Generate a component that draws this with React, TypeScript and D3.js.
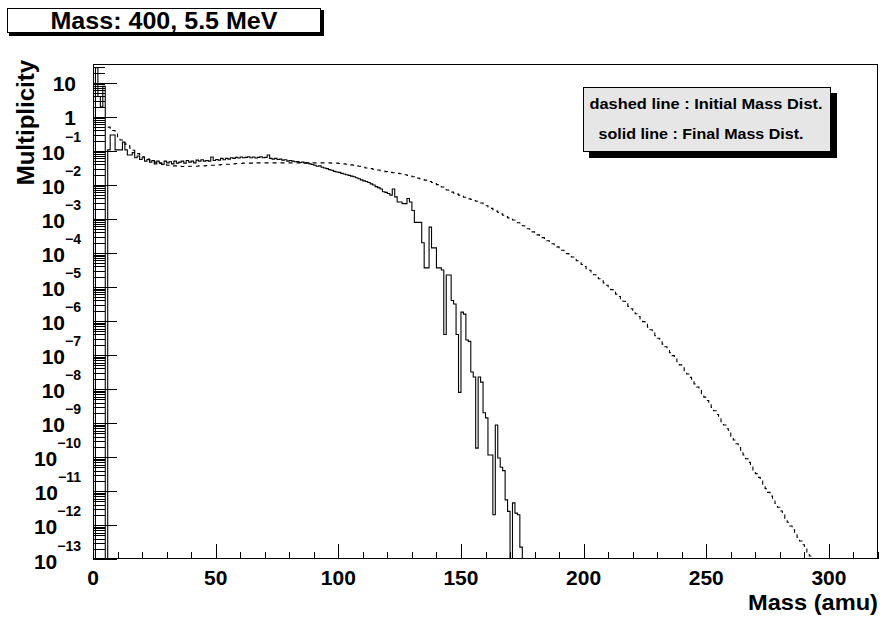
import React, { useEffect, useRef } from "react";
import * as d3 from "d3";

// log10(multiplicity) per 1-amu bin (null = empty bin)
const finalStart = 0;
const finalLog10: (number | null)[] = [
  null, 1.45, 0.6, 0.3, 0.9, null, -0.97, -0.53, -0.53, -0.97,
  -0.97, -0.97, -0.74, -0.97, -1.12, -1.12, -1.05, -1.2, -1.15, -1.25,
  -1.2, -1.3, -1.25, -1.33, -1.28, -1.38, -1.3, -1.35, -1.4, -1.3,
  -1.35, -1.32, -1.38, -1.3, -1.36, -1.33, -1.3, -1.36, -1.28, -1.33,
  -1.3, -1.35, -1.27, -1.3, -1.26, -1.3, -1.28, -1.3, -1.18, -1.28,
  -1.25, -1.27, -1.22, -1.26, -1.22, -1.24, -1.2, -1.22, -1.19, -1.21,
  -1.18, -1.2, -1.19, -1.17, -1.2, -1.18, -1.21, -1.19, -1.17, -1.2,
  -1.19, -1.12, -1.22, -1.24, -1.22, -1.25, -1.24, -1.27, -1.26, -1.3,
  -1.28, -1.3, -1.32, -1.31, -1.34, -1.33, -1.36, -1.35, -1.38, -1.4,
  -1.42, -1.45, -1.44, -1.48, -1.5, -1.52, -1.55, -1.57, -1.6, -1.62,
  -1.63, -1.66, -1.68, -1.7, -1.72, -1.74, -1.76, -1.79, -1.82, -1.85,
  -1.88, -1.9, -1.93, -1.97, -2.0, -2.05, -2.08, -2.12, -2.2, -2.22,
  -2.25, -2.3, -2.12, -2.35, -2.5, -2.5, -2.55, -2.55, -2.4, -2.5,
  -2.75, -3.1, -3.1, -3.1, -3.7, -4.44, -4.44, -3.24, -3.85, -3.85,
  -4.44, -4.44, -4.5, -6.4, -4.65, -4.65, -5.4, -5.5, -6.4, -8.1,
  -5.74, -5.8, -6.56, -6.6, -7.5, -7.65, -9.74, -7.65, -7.8, -8.7,
  -8.85, -9.94, -9.94, -11.7, -9.06, -10.03, -10.3, -10.4, -11.26, -11.6,
  null, -11.35, -11.65, -11.7, -12.65,
];

const initialStart = 6;
const initialLog10: number[] = [
  -0.3, -0.35, -0.4, -0.5, -0.6, -0.68, -0.75, -0.8, -0.85, -0.92, -0.98, -1.03, -1.08, -1.13, -1.17,
  -1.2, -1.24, -1.27, -1.3, -1.33, -1.35, -1.37, -1.39, -1.4, -1.42,
  -1.43, -1.44, -1.44, -1.45, -1.45, -1.46, -1.46, -1.46, -1.45, -1.45,
  -1.45, -1.45, -1.44, -1.44, -1.44, -1.43, -1.43, -1.42, -1.42, -1.41,
  -1.41, -1.4, -1.4, -1.39, -1.39, -1.38, -1.38, -1.37, -1.37, -1.37,
  -1.36, -1.36, -1.36, -1.36, -1.35, -1.35, -1.35, -1.35, -1.35, -1.35,
  -1.35, -1.35, -1.35, -1.35, -1.35, -1.35, -1.35, -1.35, -1.35, -1.35,
  -1.35, -1.35, -1.35, -1.35, -1.35, -1.35, -1.35, -1.35, -1.35, -1.35,
  -1.35, -1.35, -1.35, -1.35, -1.35, -1.35, -1.36, -1.36, -1.36, -1.37,
  -1.37, -1.38, -1.39, -1.4, -1.41, -1.42, -1.43, -1.45, -1.46, -1.48,
  -1.5, -1.51, -1.52, -1.54, -1.55, -1.56, -1.58, -1.59, -1.61, -1.62,
  -1.63, -1.64, -1.65, -1.66, -1.67, -1.68, -1.7, -1.72, -1.74, -1.76,
  -1.78, -1.8, -1.82, -1.84, -1.86, -1.88, -1.9, -1.93, -1.96, -1.99,
  -2.02, -2.06, -2.1, -2.15, -2.18, -2.21, -2.24, -2.27, -2.3, -2.33,
  -2.36, -2.38, -2.41, -2.43, -2.46, -2.48, -2.5, -2.53, -2.57, -2.61,
  -2.65, -2.69, -2.73, -2.77, -2.81, -2.85, -2.89, -2.93, -2.97, -3.0,
  -3.03, -3.07, -3.11, -3.16, -3.2, -3.25, -3.29, -3.34, -3.38, -3.43,
  -3.47, -3.51, -3.55, -3.6, -3.64, -3.69, -3.73, -3.78, -3.82, -3.87,
  -3.92, -3.97, -4.02, -4.07, -4.12, -4.18, -4.23, -4.29, -4.34, -4.4,
  -4.46, -4.51, -4.58, -4.64, -4.7, -4.76, -4.82, -4.88, -4.95, -5.01,
  -5.08, -5.15, -5.21, -5.28, -5.35, -5.42, -5.49, -5.57, -5.64, -5.71,
  -5.79, -5.87, -5.94, -6.02, -6.1, -6.18, -6.26, -6.34, -6.43, -6.51,
  -6.59, -6.68, -6.76, -6.85, -6.93, -7.02, -7.11, -7.2, -7.29, -7.38,
  -7.47, -7.56, -7.66, -7.75, -7.85, -7.94, -8.04, -8.14, -8.24, -8.34,
  -8.44, -8.54, -8.64, -8.75, -8.85, -8.96, -9.06, -9.17, -9.28, -9.39,
  -9.5, -9.61, -9.72, -9.83, -9.94, -10.05, -10.16, -10.27, -10.38, -10.49,
  -10.6, -10.71, -10.82, -10.93, -11.04, -11.15, -11.26, -11.37, -11.48, -11.59,
  -11.7, -11.81, -11.92, -12.03, -12.14, -12.25, -12.36, -12.47, -12.58, -12.69, -12.8, -12.91,
];

const xTicks = [0, 50, 100, 150, 200, 250, 300];
const yExponents = [1, 0, -1, -2, -3, -4, -5, -6, -7, -8, -9, -10, -11, -12, -13];

const FONT = "'Liberation Sans', Arial, Helvetica, sans-serif";

function App() {
  const ref = useRef<SVGSVGElement>(null);

  useEffect(() => {
    document.body.style.margin = "0";
    const svg = d3.select(ref.current);
    svg.selectAll("*").remove();

    const left = 93, right = 878, top = 64, bottom = 559;

    const x = d3.scaleLinear().domain([0, 320]).range([left, right]);
    const y = d3.scaleLog().domain([1e-13, 36]).range([bottom, top]).clamp(true);

    svg.append("rect").attr("width", 885).attr("height", 618).attr("fill", "white");

    svg.append("defs").append("clipPath").attr("id", "frame")
      .append("rect").attr("x", left).attr("y", top)
      .attr("width", right - left).attr("height", bottom - top);

    // step histogram path, empty bins fall to the axis
    const stepPath = (start: number, logs: (number | null)[]) => {
      let d = "";
      logs.forEach((L, i) => {
        const m = start + i;
        const yy = L === null ? bottom : y(Math.pow(10, L));
        d += i === 0 ? `M${x(m)},${yy}` : `V${yy}`;
        d += `H${x(m + 1)}`;
      });
      return d + `V${bottom}`;
    };

    const plot = svg.append("g").attr("clip-path", "url(#frame)");

    plot.append("path")
      .attr("d", stepPath(initialStart, initialLog10))
      .attr("fill", "none")
      .attr("stroke", "black")
      .attr("stroke-width", 1.1)
      .attr("stroke-dasharray", "4,4");

    plot.append("path")
      .attr("d", stepPath(finalStart, finalLog10))
      .attr("fill", "none")
      .attr("stroke", "black")
      .attr("stroke-width", 1.1);

    // frame
    svg.append("rect")
      .attr("x", left + 0.5).attr("y", top + 0.5)
      .attr("width", right - left - 1).attr("height", bottom - top - 1)
      .attr("fill", "none").attr("stroke", "black").attr("shape-rendering", "crispEdges");

    const axes = svg.append("g").attr("stroke", "black").attr("shape-rendering", "crispEdges");

    // x ticks
    d3.range(0, 321, 10).forEach((v) => {
      const len = v % 50 === 0 ? 15 : 7;
      axes.append("line")
        .attr("x1", Math.round(x(v)) + 0.5).attr("x2", Math.round(x(v)) + 0.5)
        .attr("y1", bottom).attr("y2", bottom - len);
    });

    // y ticks, major at decades and minor at 2..9
    yExponents.forEach((e) => {
      const yy = Math.round(y(Math.pow(10, e))) + 0.5;
      axes.append("line").attr("x1", left).attr("x2", left + 24).attr("y1", yy).attr("y2", yy);
      d3.range(2, 10).forEach((k) => {
        const v = k * Math.pow(10, e);
        if (v > 36) return;
        const ym = Math.round(y(v)) + 0.5;
        axes.append("line").attr("x1", left).attr("x2", left + 12).attr("y1", ym).attr("y2", ym);
      });
    });

    // x labels
    svg.append("g").selectAll("text").data(xTicks).enter().append("text")
      .attr("x", (d) => x(d))
      .attr("y", 585)
      .attr("text-anchor", "middle")
      .attr("font-family", FONT).attr("font-weight", "bold").attr("font-size", 21)
      .text((d) => String(d));

    // y labels
    yExponents.forEach((e) => {
      const yy = y(Math.pow(10, e));
      const t = svg.append("text")
        .attr("text-anchor", "end")
        .attr("font-family", FONT).attr("font-weight", "bold");
      if (e === 1) {
        t.attr("x", 76).attr("y", yy + 8.5).attr("font-size", 21).text("10");
      } else if (e === 0) {
        t.attr("x", 76).attr("y", yy + 8.5).attr("font-size", 21).text("1");
      } else {
        t.attr("x", 81).attr("y", yy + 9.5);
        t.append("tspan").attr("font-size", 21).text("10");
        t.append("tspan").attr("font-size", 14).attr("dy", -18).text(`\u2212${-e}`);
      }
    });

    // axis titles
    svg.append("text")
      .attr("x", right).attr("y", 610)
      .attr("text-anchor", "end")
      .attr("font-family", FONT).attr("font-weight", "bold").attr("font-size", 22)
      .attr("textLength", 130).attr("lengthAdjust", "spacingAndGlyphs")
      .text("Mass (amu)");

    svg.append("text")
      .attr("transform", "translate(34,60) rotate(-90)")
      .attr("text-anchor", "end")
      .attr("font-family", FONT).attr("font-weight", "bold").attr("font-size", 24)
      .text("Multiplicity");

    // title box
    svg.append("rect").attr("x", 9).attr("y", 10).attr("width", 315).attr("height", 26).attr("fill", "black");
    svg.append("rect").attr("x", 7.5).attr("y", 8.5).attr("width", 313).attr("height", 24)
      .attr("fill", "white").attr("stroke", "black").attr("shape-rendering", "crispEdges");
    svg.append("text")
      .attr("x", 164).attr("y", 28.5)
      .attr("text-anchor", "middle")
      .attr("font-family", FONT).attr("font-weight", "bold").attr("font-size", 24)
      .attr("textLength", 227).attr("lengthAdjust", "spacingAndGlyphs")
      .text("Mass: 400, 5.5 MeV");

    // legend box
    svg.append("rect").attr("x", 589).attr("y", 93).attr("width", 248).attr("height", 65).attr("fill", "black");
    svg.append("rect").attr("x", 583.5).attr("y", 87.5).attr("width", 247).attr("height", 64)
      .attr("fill", "#e6e6e6").attr("stroke", "black").attr("shape-rendering", "crispEdges");
    svg.append("text")
      .attr("x", 706).attr("y", 108.5).attr("text-anchor", "middle")
      .attr("font-family", FONT).attr("font-weight", "bold").attr("font-size", 15)
      .attr("textLength", 233).attr("lengthAdjust", "spacingAndGlyphs")
      .text("dashed line : Initial Mass Dist.");
    svg.append("text")
      .attr("x", 701).attr("y", 139).attr("text-anchor", "middle")
      .attr("font-family", FONT).attr("font-weight", "bold").attr("font-size", 15)
      .attr("textLength", 205).attr("lengthAdjust", "spacingAndGlyphs")
      .text("solid line : Final Mass Dist.");
  }, []);

  return <svg ref={ref} width={885} height={618} style={{ display: "block" }} />;
}

export default App;
